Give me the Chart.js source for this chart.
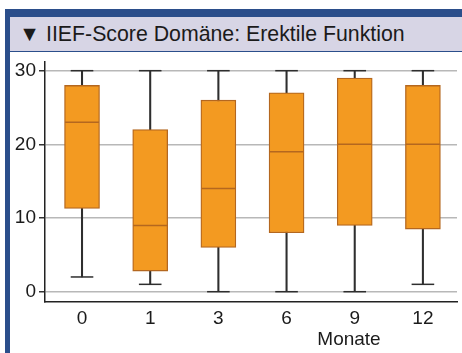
<!DOCTYPE html>
<html>
<head>
<meta charset="utf-8">
<script src="https://cdn.jsdelivr.net/npm/chart.js@4/dist/chart.umd.min.js"></script>
<style>
  html, body { margin: 0; padding: 0; background: #fff; }
  body { width: 462px; height: 353px; overflow: hidden; position: relative; font-family: "Liberation Sans", Arial, sans-serif; }
  .bar-top { position: absolute; left: 5px; top: 9px; width: 457px; height: 8px; background: #2b4e8b; }
  .bar-left { position: absolute; left: 5px; top: 9px; width: 5px; height: 344px; background: #2b4e8b; }
  .header { position: absolute; left: 10px; top: 17px; width: 452px; height: 35px; background: #d7d5e5;
            border-bottom: 1.5px solid #2b4e8b; box-sizing: border-box; color: #1b1b1b;
            font-size: 21.3px; line-height: 34px; padding-left: 9px; white-space: nowrap; }
  .plot { position: absolute; left: 10px; top: 53px; width: 452px; height: 300px; }
  .xtitle { position: absolute; left: 349px; top: 339px; transform: translate(-50%, -50%);
            font-size: 19px; color: #1b1b1b; white-space: nowrap; }
</style>
</head>
<body>
<div class="bar-top"></div>
<div class="bar-left"></div>
<div class="header">▼ IIEF-Score Domäne: Erektile Funktion</div>
<div class="plot"><canvas id="c" width="452" height="300"></canvas></div>
<div class="xtitle">Monate</div>
<script>
// Follow-up months (categories) and the five-number summary per month
const months      = ['0', '1', '3', '6', '9', '12'];
const whiskerLow  = [2, 1, 0, 0, 0, 1];
const quartile1   = [11.3, 2.8, 6, 8, 9, 8.5];
const median      = [23, 9, 14, 19, 20, 20];
const quartile3   = [28, 22, 26, 27, 29, 28];
const whiskerHigh = [30, 30, 30, 30, 30, 30];
const yTicks      = [0, 10, 20, 30];

const BOX_FILL = '#f39a21';
const BOX_EDGE = '#b4671f';
const WHISKER = '#2e2e2e';
const TEXT = '#1b1b1b';

const at = (vals) => months.map((_, i) => ({ x: i, y: vals[i] }));
const span = (lo, hi) => months.map((_, i) => ({ x: i, y: [lo[i], hi[i]] }));

// fixed axis sizes, no extra room reserved for overhanging labels
const fixSize = (prop, size) => (s) => {
  s[prop] = size;
  s.paddingTop = 0; s.paddingBottom = 0; s.paddingLeft = 0; s.paddingRight = 0;
};

new Chart(document.getElementById('c'), {
  type: 'bar',
  data: {
    datasets: [
      { // whisker stems
        type: 'bar', data: span(whiskerLow, whiskerHigh), backgroundColor: WHISKER,
        barThickness: 1.4, grouped: false, order: 3
      },
      { // interquartile boxes
        type: 'bar', data: span(quartile1, quartile3), backgroundColor: BOX_FILL,
        borderColor: BOX_EDGE, borderWidth: 1.3, borderSkipped: false,
        barThickness: 35, grouped: false, order: 2
      },
      { // lower whisker caps
        type: 'line', data: at(whiskerLow), showLine: false, pointStyle: 'line', clip: false,
        pointRadius: 11.3, pointBorderWidth: 1.5, borderColor: WHISKER, order: 1
      },
      { // upper whisker caps
        type: 'line', data: at(whiskerHigh), showLine: false, pointStyle: 'line', clip: false,
        pointRadius: 11.3, pointBorderWidth: 1.5, borderColor: WHISKER, order: 1
      },
      { // medians
        type: 'line', data: at(median), showLine: false, pointStyle: 'line', clip: false,
        pointRadius: 17, pointBorderWidth: 1.5, borderColor: BOX_EDGE, order: 0
      }
    ]
  },
  options: {
    responsive: false,
    animation: false,
    events: [],
    layout: { autoPadding: false, padding: { top: 9, right: 5, bottom: 0, left: 0 } },
    plugins: { legend: { display: false }, tooltip: { enabled: false } },
    scales: {
      x: {
        type: 'linear',
        offset: false,
        min: -0.543,
        max: 5.50,
        afterBuildTicks: (s) => { s.ticks = months.map((_, i) => ({ value: i })); },
        afterFit: fixSize('height', 51.3),
        grid: { display: false, drawTicks: false },
        border: { display: true, color: '#222', width: 1.5 },
        ticks: {
          callback: (v) => months[v],
          font: { family: '"Liberation Sans", Arial, sans-serif', size: 19 },
          color: TEXT, padding: 6, maxRotation: 0, autoSkip: false
        }
      },
      y: {
        min: -1.357,
        max: 31.18,
        afterBuildTicks: (s) => { s.ticks = yTicks.map(v => ({ value: v })); },
        afterFit: fixSize('width', 35),
        grid: { color: '#b8b8b8', lineWidth: 1.5, tickColor: '#333', tickLength: 6 },
        border: { display: true, color: '#222', width: 1.5 },
        ticks: {
          font: { family: '"Liberation Sans", Arial, sans-serif', size: 19 },
          color: TEXT, padding: 3
        }
      }
    }
  }
});
</script>
</body>
</html>
